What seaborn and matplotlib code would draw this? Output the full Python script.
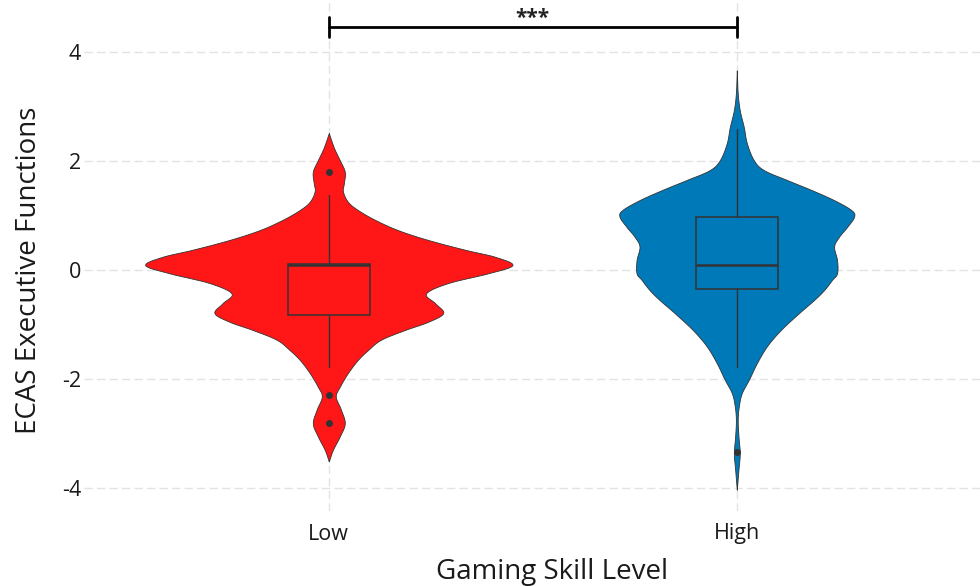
import numpy as np
import matplotlib
matplotlib.use("Agg")
import matplotlib.pyplot as plt
import seaborn as sns

# ---------------- data ----------------
groups = ["Low", "High"]
colors = ["#FF1616", "#0079B8"]

# violin outlines: y value and relative density (max of all groups = 1)
low_y = [2.51, 2.35, 2.20, 2.01, 1.80, 1.59, 1.44, 1.25, 1.10, 0.92, 0.73, 0.55,
         0.37, 0.24, 0.09, -0.06, -0.24, -0.43, -0.61, -0.79, -0.95, -1.10,
         -1.28, -1.47, -1.65, -1.89, -2.14, -2.32, -2.56, -2.81, -3.05, -3.30, -3.51]
low_density = [0.0, 0.016, 0.033, 0.060, 0.087, 0.082, 0.077, 0.104, 0.158, 0.251,
               0.377, 0.541, 0.743, 0.907, 1.0, 0.869, 0.650, 0.530, 0.579, 0.623,
               0.541, 0.415, 0.284, 0.213, 0.158, 0.104, 0.060, 0.038, 0.066, 0.087,
               0.060, 0.022, 0.0]

high_y = [3.66, 3.24, 2.93, 2.62, 2.32, 2.01, 1.83, 1.65, 1.47, 1.28, 1.10, 0.98,
          0.79, 0.61, 0.43, 0.18, -0.06, -0.18, -0.37, -0.55, -0.79, -1.10, -1.40,
          -1.71, -2.01, -2.26, -2.50, -2.75, -3.05, -3.36, -3.66, -4.03]
high_density = [0.0, 0.005, 0.016, 0.038, 0.055, 0.093, 0.148, 0.273, 0.404, 0.530,
                0.623, 0.639, 0.601, 0.557, 0.530, 0.546, 0.546, 0.519, 0.475, 0.421,
                0.339, 0.240, 0.164, 0.109, 0.066, 0.027, 0.011, 0.005, 0.009, 0.016,
                0.009, 0.0]

# box plot statistics
q1 = [-0.82, -0.35]
medians = [0.09, 0.09]
q3 = [0.10, 0.97]
whisker_low = [-1.78, -1.78]
whisker_high = [1.37, 2.58]
outliers = [[1.80, -2.29, -2.80], [-3.33]]

yticks = [-4, -2, 0, 2, 4]
sig_label = "***"
sig_height = 4.46
xlabel = "Gaming Skill Level"
ylabel = "ECAS Executive Functions"

# ---------------- style ----------------
sns.set_theme(style="white")
plt.rcParams["font.family"] = ["Open Sans", "DejaVu Sans"]
plt.rcParams["lines.scale_dashes"] = False

W, H = 980, 586
fig = plt.figure(figsize=(W / 100, H / 100), dpi=100)
ax_left, ax_bottom_px = 84, 511
ax = fig.add_axes([ax_left / W, 1 - ax_bottom_px / H, (W - ax_left) / W, ax_bottom_px / H])

grid_kw = dict(color="#E3E3E3", lw=1.0, linestyle=(0, (6, 3)), zorder=0)
for t in yticks:
    ax.axhline(t, **grid_kw)
for i in range(len(groups)):
    ax.axvline(i, **grid_kw)


def catmull_rom(y, w, n=16):
    pts = np.column_stack([y, w]).astype(float)
    pts = np.vstack([2 * pts[0] - pts[1], pts, 2 * pts[-1] - pts[-2]])
    out = []
    t = np.linspace(0, 1, n, endpoint=False)[:, None]
    for i in range(1, len(pts) - 2):
        p0, p1, p2, p3 = pts[i - 1], pts[i], pts[i + 1], pts[i + 2]
        seg = 0.5 * ((2 * p1) + (-p0 + p2) * t + (2 * p0 - 5 * p1 + 4 * p2 - p3) * t ** 2
                     + (-p0 + 3 * p1 - 3 * p2 + p3) * t ** 3)
        out.append(seg)
    out.append(pts[-2][None, :])
    out = np.vstack(out)
    return out[:, 0], np.clip(out[:, 1], 0, None)


violin_width = 0.9
profiles = [(low_y, low_density), (high_y, high_density)]
for i, (yy, dd) in enumerate(profiles):
    ys, ws = catmull_rom(yy, dd)
    hw = ws * violin_width / 2
    ax.fill_betweenx(ys, i - hw, i + hw, facecolor=colors[i], edgecolor="#333333",
                     linewidth=0.6, zorder=2)

stats = []
for i, g in enumerate(groups):
    stats.append(dict(label=g, q1=q1[i], med=medians[i], q3=q3[i],
                      whislo=whisker_low[i], whishi=whisker_high[i], fliers=outliers[i]))

bp = ax.bxp(stats, positions=list(range(len(groups))), widths=0.2, showcaps=False,
            patch_artist=True,
            boxprops=dict(edgecolor="#333333", linewidth=1.1),
            whiskerprops=dict(color="#333333", linewidth=1.0),
            medianprops=dict(color="#333333", linewidth=1.8),
            flierprops=dict(marker="o", markerfacecolor="#333333", markeredgecolor="#333333",
                            markersize=4),
            zorder=3)
for patch, c in zip(bp["boxes"], colors):
    patch.set_facecolor(c)

# significance bracket
ax.plot([0, 1], [sig_height, sig_height], color="black", lw=2.0, zorder=4, clip_on=False)
for i in range(len(groups)):
    ax.plot([i, i], [sig_height - 0.19, sig_height + 0.18], color="black", lw=2.0,
            zorder=4, clip_on=False)
ax.text(0.5, sig_height + 0.05, sig_label, ha="center", va="baseline", fontsize=15,
        fontweight="bold", color="#222222")

ax.set_xlim(-0.6, -0.6 + (W - ax_left) / 408)
ax.set_ylim(-4.42, 4.95)
ax.set_xticks(range(len(groups)))
ax.set_xticklabels(groups)
ax.set_yticks(yticks)
ax.set_yticklabels([str(t) for t in yticks])
ax.tick_params(axis="both", length=0, labelsize=15.5, colors="#1a1a1a")
ax.tick_params(axis="y", pad=2)
ax.tick_params(axis="x", pad=9)
for s in ax.spines.values():
    s.set_visible(False)
ax.grid(False)

ax.set_xlabel(xlabel, fontsize=20, color="#1a1a1a", va="baseline")
ax.xaxis.set_label_coords((552 - ax_left) / (W - ax_left), (ax_bottom_px - 579) / ax_bottom_px)
ax.set_ylabel(ylabel, fontsize=20, color="#1a1a1a", va="center")
ax.yaxis.set_label_coords((29 - ax_left) / (W - ax_left), (ax_bottom_px - 270) / ax_bottom_px)

fig.savefig("out.png", dpi=100)
